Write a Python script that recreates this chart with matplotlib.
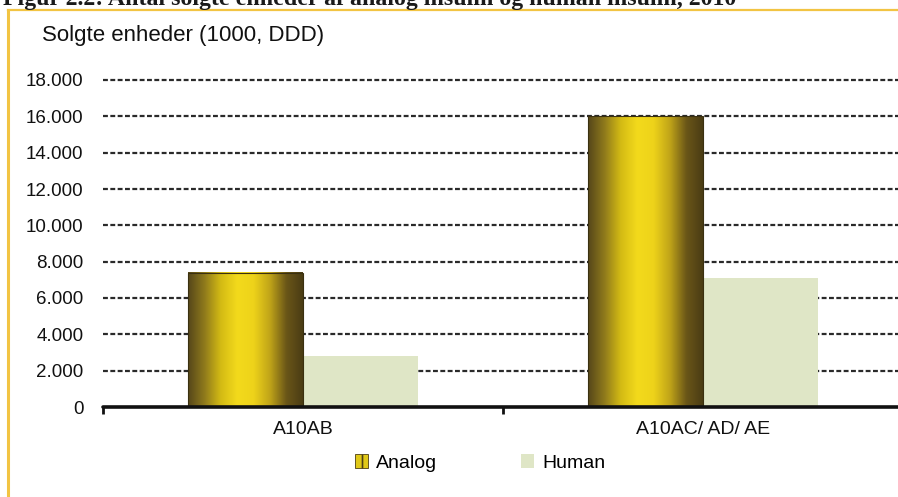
import numpy as np
import matplotlib
matplotlib.use("Agg")
import matplotlib.pyplot as plt
from matplotlib.patches import Rectangle, Patch
from matplotlib.colors import LinearSegmentedColormap

categories = ["A10AB", "A10AC/ AD/ AE"]
series_names = ["Analog", "Human"]
analog = [7400, 16000]
human = [2800, 7100]
yticks = [0, 2000, 4000, 6000, 8000, 10000, 12000, 14000, 16000, 18000]
ytick_labels = ["0", "2.000", "4.000", "6.000", "8.000", "10.000", "12.000",
                "14.000", "16.000", "18.000"]

W, H = 898, 497
plt.rcParams["font.family"] = ["Liberation Sans", "DejaVu Sans"]
plt.rcParams["hatch.color"] = "#4d3f14"
plt.rcParams["hatch.linewidth"] = 1.2
fig = plt.figure(figsize=(W / 100, H / 100), dpi=100)
fig.patch.set_facecolor("white")

# Caption above the framed chart (runs off the top of the page)
fig.text(3 / W, 1 - 5 / H, "Figur 2.2: Antal solgte enheder af analog insulin og human insulin, 2010",
         family=["Liberation Serif", "DejaVu Serif"], fontsize=17.2, fontweight="bold",
         ha="left", va="baseline", color="#1a1a1a")

# Chart frame
frame_col = "#f2c443"
fig.add_artist(plt.Line2D([8 / W, 8 / W], [0, 1 - 10 / H], color=frame_col, lw=2.2,
                          transform=fig.transFigure))
fig.add_artist(plt.Line2D([8 / W, 1], [1 - 10 / H, 1 - 10 / H], color=frame_col, lw=1.6,
                          transform=fig.transFigure))

left, right = 103, 903
bottom, top = 407, 80
ax = fig.add_axes([left / W, 1 - bottom / H, (right - left) / W, (bottom - top) / H])
ax.set_facecolor("none")

x = np.arange(len(categories))
bw = 0.2875
bars_a = ax.bar(x - bw / 2, analog, bw, color="#e8d020", zorder=3, linewidth=0)
bars_h = ax.bar(x + bw / 2, human, bw, color="#dfe6c6", zorder=3, linewidth=0)

# Cylinder shading on the analog bars
cyl = LinearSegmentedColormap.from_list(
    "cyl", ["#55461a", "#8f7a1c", "#d4bb14", "#f3da1c", "#eed31a", "#c0a418", "#6a5618", "#4a3c14"])
grad = np.linspace(0, 1, 256).reshape(1, -1)
for b in bars_a:
    x0, w, h = b.get_x(), b.get_width(), b.get_height()
    ax.imshow(grad, cmap=cyl, aspect="auto", extent=(x0, x0 + w, 0, h),
              zorder=4, interpolation="bicubic")
    ax.add_patch(Rectangle((x0, 0), w, h, fill=False, edgecolor="#3a3010", lw=0.8, zorder=5))
ax.set_xlim(-0.5, 1.5)
ax.set_ylim(0, 18000)

# Dashed grid
for yv in yticks[1:]:
    ax.axhline(yv, color="#2a2a2a", lw=1.6, ls=(0, (2.2, 1.1)), zorder=1, clip_on=False)

for s in ["top", "right", "left"]:
    ax.spines[s].set_visible(False)
ax.spines["bottom"].set_linewidth(2.6)
ax.spines["bottom"].set_color("#111111")
ax.spines["bottom"].set_capstyle("round")
ax.spines["bottom"].set_zorder(6)

ax.set_yticks(yticks)
ax.set_yticklabels(ytick_labels)
ax.tick_params(axis="y", length=0, pad=14, labelsize=13.5, labelcolor="#111111")
ax.set_xticks([-0.5, 0.5])
ax.set_xticklabels(["", ""])
ax.tick_params(axis="x", length=5, width=2, color="#111111", direction="out")
for i, c in enumerate(categories):
    ax.text(x[i], -1250, c, ha="center", va="center", fontsize=14, color="#111111")

fig.text(42 / W, 1 - 35 / H, "Solgte enheder (1000, DDD)", ha="left", va="center",
         fontsize=16, color="#111111")

handles = [Patch(facecolor="#e0c818", edgecolor="#4d3f14", hatch="||", lw=0.6),
           Patch(facecolor="#dfe6c6", edgecolor="none")]
fig.legend(handles, series_names, loc="center", bbox_to_anchor=(480 / W, 1 - 463 / H),
           ncol=2, frameon=False, fontsize=14, handlelength=0.7, handleheight=0.7,
           handletextpad=0.4, columnspacing=4.3)

fig.savefig("out.png", dpi=100, facecolor="white")
